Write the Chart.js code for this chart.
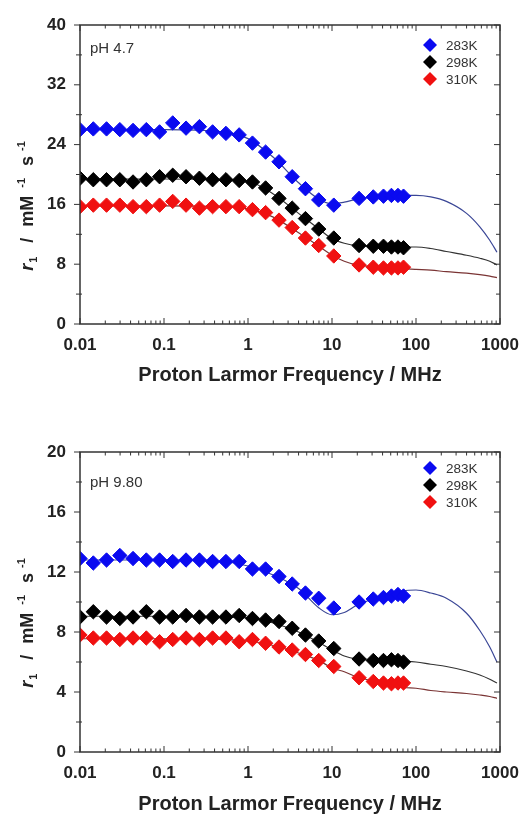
<!DOCTYPE html>
<html>
<head>
<meta charset="utf-8">
<script src="https://cdn.jsdelivr.net/npm/chart.js@4.4.1/dist/chart.umd.min.js"></script>
<style>
  html, body { margin: 0; padding: 0; background: #fff; }
  .panel { position: absolute; left: 0; width: 531px; }
  #top { top: 0; height: 400px; }
  #bottom { top: 420px; height: 394px; }
</style>
</head>
<body>
<div class="panel" id="top"><canvas id="chartTop" width="531" height="400"></canvas></div>
<div class="panel" id="bottom"><canvas id="chartBottom" width="531" height="394"></canvas></div>
<script>
/* ===== DATA ===== */
const seriesLabels = ["283K", "298K", "310K"];
const xTickValues = [0.01, 0.1, 1, 10, 100, 1000];
const xTickLabels = ["0.01", "0.1", "1", "10", "100", "1000"];
const yTicksTop = [0, 8, 16, 24, 32, 40];
const yTicksBottom = [0, 4, 8, 12, 16, 20];

// proton Larmor frequency (MHz) of the measured points
const freqs = [0.01, 0.0144, 0.0207, 0.0298, 0.0428, 0.0616, 0.0886, 0.127, 0.183, 0.264,
  0.379, 0.546, 0.785, 1.13, 1.62, 2.34, 3.36, 4.83, 6.95, 10.5,
  21, 31, 41, 51, 61, 71];

// pH 4.7
const r1Top283 = [26.0, 26.1, 26.1, 26.0, 25.9, 26.0, 25.7, 26.9, 26.2, 26.4,
  25.7, 25.5, 25.3, 24.2, 23.0, 21.7, 19.7, 18.1, 16.6, 15.9,
  16.8, 17.0, 17.1, 17.2, 17.2, 17.1];
const r1Top298 = [19.5, 19.3, 19.3, 19.3, 19.0, 19.3, 19.7, 19.9, 19.7, 19.5,
  19.3, 19.3, 19.2, 19.0, 18.2, 16.8, 15.5, 14.1, 12.7, 11.5,
  10.5, 10.4, 10.4, 10.3, 10.3, 10.2];
const r1Top310 = [15.7, 15.9, 15.9, 15.9, 15.7, 15.7, 15.9, 16.4, 15.9, 15.5,
  15.7, 15.7, 15.7, 15.3, 14.9, 13.9, 12.9, 11.5, 10.5, 9.1,
  7.9, 7.6, 7.5, 7.5, 7.5, 7.6];

// pH 9.80
const r1Bot283 = [12.9, 12.6, 12.8, 13.1, 12.9, 12.8, 12.8, 12.7, 12.8, 12.8,
  12.7, 12.7, 12.7, 12.2, 12.2, 11.7, 11.2, 10.6, 10.25, 9.6,
  10.0, 10.2, 10.3, 10.4, 10.5, 10.4];
const r1Bot298 = [9.0, 9.35, 9.0, 8.9, 9.0, 9.35, 9.0, 9.0, 9.1, 9.0,
  9.0, 9.0, 9.1, 8.9, 8.8, 8.7, 8.25, 7.8, 7.4, 6.9,
  6.2, 6.1, 6.1, 6.15, 6.1, 6.0];
const r1Bot310 = [7.8, 7.6, 7.6, 7.5, 7.6, 7.6, 7.35, 7.5, 7.6, 7.5,
  7.6, 7.6, 7.35, 7.5, 7.25, 7.0, 6.8, 6.5, 6.1, 5.7,
  4.95, 4.7, 4.6, 4.55, 4.6, 4.6];

// fitted curves
const fitFreqs = [0.01, 0.1, 0.5, 1, 2, 4, 7, 10, 14, 20, 40, 70, 100, 150, 230, 400, 575, 755, 920];
const fitTop283 = [26.0, 26.0, 25.7, 24.8, 22.3, 18.9, 16.7, 16.1, 16.3, 16.7, 17.1, 17.2, 17.2, 17.0, 16.4, 14.8, 13.0, 11.2, 9.6];
const fitTop298 = [19.4, 19.4, 19.3, 19.1, 17.4, 14.8, 12.7, 11.4, 10.8, 10.5, 10.4, 10.3, 10.3, 10.1, 9.7, 9.2, 8.8, 8.4, 7.9];
const fitTop310 = [15.8, 15.8, 15.7, 15.4, 14.3, 12.2, 10.4, 9.2, 8.4, 7.9, 7.6, 7.4, 7.3, 7.2, 7.0, 6.8, 6.6, 6.4, 6.2];
const fitBot283 = [12.8, 12.8, 12.7, 12.4, 11.8, 10.9, 9.6, 9.15, 9.3, 9.8, 10.4, 10.75, 10.8, 10.6, 10.25, 9.25, 8.1, 7.0, 6.0];
const fitBot298 = [9.05, 9.05, 9.0, 8.95, 8.6, 8.0, 7.3, 6.8, 6.4, 6.2, 6.1, 6.05, 6.0, 5.85, 5.7, 5.4, 5.13, 4.85, 4.6];
const fitBot310 = [7.55, 7.55, 7.5, 7.4, 7.1, 6.6, 6.1, 5.6, 5.35, 5.0, 4.6, 4.3, 4.25, 4.1, 4.0, 3.9, 3.8, 3.7, 3.58];

const pointColors = ["#0a0af0", "#000000", "#f01010"];
const curveColors = ["#3a4696", "#333333", "#7a3434"];

const FONT = "'Liberation Sans', Arial, sans-serif";
Chart.defaults.font.family = FONT;

/* ===== HELPERS ===== */
const zip = (xs, ys) => xs.map((x, i) => ({ x, y: ys[i] }));

function drawDiamond(ctx, cx, cy, r, color) {
  ctx.beginPath();
  ctx.moveTo(cx, cy - r);
  ctx.lineTo(cx + r, cy);
  ctx.lineTo(cx, cy + r);
  ctx.lineTo(cx - r, cy);
  ctx.closePath();
  ctx.fillStyle = color;
  ctx.fill();
}

// y title: r1 / mM-1 s-1 with sub/superscripts
const yTitleParts = [
  { t: "r", font: "italic bold 18px " + FONT, dy: 0, gap: 0 },
  { t: "1", font: "bold 11px " + FONT, dy: 4, gap: 1 },
  { t: "/", font: "bold 18px " + FONT, dy: 0, gap: 14 },
  { t: "mM", font: "bold 18px " + FONT, dy: 0, gap: 11 },
  { t: "-1", font: "bold 11px " + FONT, dy: -8, gap: 8 },
  { t: "s", font: "bold 18px " + FONT, dy: 0, gap: 12 },
  { t: "-1", font: "bold 11px " + FONT, dy: -8, gap: 5 },
];

/* ===== DECOR PLUGIN: frame, ticks, labels, legend ===== */
const decorPlugin = {
  id: "decor",
  afterDraw(chart, args, opts) {
    const ctx = chart.ctx;
    const { left, right, top, bottom } = chart.chartArea;
    const xs = chart.scales.x, ys = chart.scales.y;
    ctx.save();

    // frame
    ctx.strokeStyle = "#333";
    ctx.lineWidth = 1.5;
    ctx.strokeRect(left, top, right - left, bottom - top);

    // x ticks (inward, top and bottom)
    ctx.lineWidth = 1;
    ctx.beginPath();
    xTickValues.forEach((d, i) => {
      const px = xs.getPixelForValue(d);
      ctx.moveTo(px, bottom); ctx.lineTo(px, bottom - 6);
      ctx.moveTo(px, top); ctx.lineTo(px, top + 6);
      if (i < xTickValues.length - 1) {
        for (let m = 2; m <= 9; m++) {
          const mx = xs.getPixelForValue(m * d);
          ctx.moveTo(mx, bottom); ctx.lineTo(mx, bottom - 3.5);
          ctx.moveTo(mx, top); ctx.lineTo(mx, top + 3.5);
        }
      }
    });
    // y ticks: left outward, right inward
    const yt = opts.yTicks;
    yt.forEach((v, i) => {
      const py = ys.getPixelForValue(v);
      ctx.moveTo(left, py); ctx.lineTo(left - 6, py);
      ctx.moveTo(right, py); ctx.lineTo(right - 6, py);
      if (i < yt.length - 1) {
        const my = ys.getPixelForValue((v + yt[i + 1]) / 2);
        ctx.moveTo(left + 2, my); ctx.lineTo(left - 4, my);
        ctx.moveTo(right, my); ctx.lineTo(right - 4, my);
      }
    });
    ctx.stroke();

    // pH label
    ctx.fillStyle = "#333";
    ctx.font = "15px " + FONT;
    ctx.textAlign = "left";
    ctx.textBaseline = "alphabetic";
    ctx.fillText(opts.ph, left + 10, opts.phY);

    // legend
    ctx.font = "13.5px " + FONT;
    ctx.textBaseline = "middle";
    chart.data.datasets.filter(d => d.inLegend).forEach((d, i) => {
      const ly = opts.legendY + i * 17;
      drawDiamond(ctx, 430, ly, 7, d.backgroundColor);
      ctx.fillStyle = "#333";
      ctx.fillText(d.label, 446, ly + 1);
    });

    // y title (rotated, rich text)
    ctx.translate(33, opts.yTitleCenter);
    ctx.rotate(-Math.PI / 2);
    ctx.fillStyle = "#222";
    ctx.textBaseline = "alphabetic";
    let total = 0;
    const widths = yTitleParts.map(p => { ctx.font = p.font; const w = ctx.measureText(p.t).width; total += w + p.gap; return w; });
    let ux = -total / 2;
    yTitleParts.forEach((p, i) => {
      ux += p.gap;
      ctx.font = p.font;
      ctx.fillText(p.t, ux, p.dy);
      ux += widths[i];
    });
    ctx.restore();
  }
};

/* ===== BUILD CHART ===== */
function buildChart(canvasId, p) {
  const datasets = [];
  p.points.forEach((vals, i) => {
    datasets.push({
      label: seriesLabels[i],
      inLegend: true,
      data: zip(freqs, vals),
      backgroundColor: pointColors[i],
      borderColor: pointColors[i],
      borderWidth: 1,
      pointStyle: "rectRot",
      pointRadius: 7.2,
      pointHoverRadius: 7.2,
      showLine: false,
      order: 1,
    });
  });
  p.fits.forEach((vals, i) => {
    datasets.push({
      label: seriesLabels[i] + " fit",
      data: zip(fitFreqs, vals),
      borderColor: curveColors[i],
      borderWidth: 1.2,
      pointRadius: 0,
      showLine: true,
      fill: false,
      cubicInterpolationMode: "monotone",
      order: 5,
    });
  });

  return new Chart(document.getElementById(canvasId), {
    type: "scatter",
    data: { datasets },
    options: {
      responsive: false,
      animation: false,
      layout: { padding: { top: p.padTop, right: 31, left: 0, bottom: 0 } },
      plugins: {
        legend: { display: false },
        tooltip: { enabled: false },
        decor: { ph: p.ph, phY: p.phY, legendY: p.legendY, yTicks: p.yTicks, yTitleCenter: p.yTitleCenter },
      },
      scales: {
        x: {
          type: "logarithmic",
          min: 0.01,
          max: 1000,
          afterBuildTicks: s => { s.ticks = xTickValues.map(v => ({ value: v })); },
          afterFit: s => { s.height = p.xHeight; },
          grid: { display: false, drawTicks: false },
          border: { display: false },
          ticks: {
            padding: 11,
            color: "#222",
            maxRotation: 0,
            autoSkip: false,
            font: { size: 17, weight: "bold" },
            callback: (v, i) => xTickLabels[i],
          },
          title: {
            display: true,
            text: "Proton Larmor Frequency / MHz",
            color: "#222",
            font: { size: 20, weight: "bold", lineHeight: 1 },
            padding: { top: 0, bottom: p.titlePad },
          },
        },
        y: {
          min: 0,
          max: p.yTicks[p.yTicks.length - 1],
          afterBuildTicks: s => { s.ticks = p.yTicks.map(v => ({ value: v })); },
          afterFit: s => { s.width = 80; },
          grid: { display: false, drawTicks: false },
          border: { display: false },
          ticks: {
            padding: 14,
            color: "#222",
            font: { size: 17, weight: "bold" },
          },
        },
      },
    },
    plugins: [decorPlugin],
  });
}

buildChart("chartTop", {
  points: [r1Top283, r1Top298, r1Top310],
  fits: [fitTop283, fitTop298, fitTop310],
  yTicks: yTicksTop,
  padTop: 25,
  xHeight: 76,
  titlePad: 15,
  ph: "pH 4.7",
  phY: 53,
  legendY: 45,
  yTitleCenter: 206,
});

buildChart("chartBottom", {
  points: [r1Bot283, r1Bot298, r1Bot310],
  fits: [fitBot283, fitBot298, fitBot310],
  yTicks: yTicksBottom,
  padTop: 32,
  xHeight: 62,
  titlePad: 0,
  ph: "pH 9.80",
  phY: 67,
  legendY: 48,
  yTitleCenter: 203,
});
</script>
</body>
</html>
